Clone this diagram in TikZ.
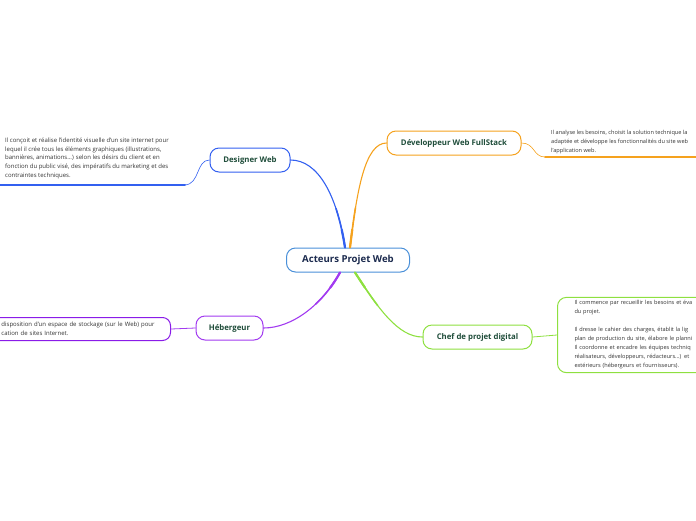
\documentclass[tikz,border=0pt]{standalone}
\usepackage{fontspec}
\setmainfont{Open Sans}
\usetikzlibrary{positioning}
\begin{document}
\begin{tikzpicture}[x=1pt,y=-1pt,line join=round,line cap=round,
		topic/.style={draw,fill=white,rounded corners=9pt,line width=1pt,minimum height=24pt,inner xsep=6pt,font=\fontsize{7.8}{9}\selectfont\bfseries,text=dkgreen},
		notetext/.style={align=left,inner sep=0pt,anchor=north west,font=\fontsize{6}{8.7}\selectfont,text=notegray},
		link/.style={line width=1.1pt},
		linkmid/.style={line width=1.6pt,dash pattern=on 40pt off 2000pt},
		linkroot/.style={line width=2.2pt,dash pattern=on 18pt off 2000pt}]
	\definecolor{centreblue}{HTML}{4A90D9}
	\definecolor{navy}{HTML}{1B2A4E}
	\definecolor{dkgreen}{HTML}{1F4D3A}
	\definecolor{notegray}{HTML}{333333}
	\definecolor{dblue}{HTML}{3360F0}
	\definecolor{dorange}{HTML}{F5A21E}
	\definecolor{hpurple}{HTML}{A23BF0}
	\definecolor{hpurpledark}{HTML}{8A1CE8}
	\definecolor{cgreen}{HTML}{8EE040}
	\useasboundingbox (0,0) rectangle (696,520);
	\clip (0,0) rectangle (696,520);
	
	% centre et branches
	\node[topic,draw=centreblue,minimum width=123pt,font=\fontsize{9.6}{11}\selectfont\bfseries,text=navy] (root) at (348,260) {Acteurs Projet Web};
	\node[topic,draw=dblue,minimum width=80pt] (designer) at (250,160) {Designer Web};
	\node[topic,draw=dorange,minimum width=134pt] (dev) at (454,143) {Développeur Web FullStack};
	\node[topic,draw=hpurple,minimum width=67pt] (heb) at (229.5,328) {Hébergeur};
	\node[topic,draw=cgreen,minimum width=109pt] (chef) at (477.5,337) {Chef de projet digital};
	
	\def\bluepath{([xshift=-3pt]root.north) .. controls (337,195) and (318,160) .. (designer.east)}
	\def\orangepath{([xshift=2pt]root.north) .. controls (357,190) and (365,143) .. (dev.west)}
	\def\purplepath{([xshift=-8pt]root.south) .. controls (322,305) and (292,328) .. (heb.east)}
	\def\greenpath{([xshift=7pt]root.south) .. controls (378,308) and (398,337) .. (chef.west)}
	\foreach \p/\c in {\bluepath/dblue,\orangepath/dorange,\purplepath/hpurple,\greenpath/cgreen}{
		\draw[link,\c] \p;
		\draw[linkmid,\c] \p;
		\draw[linkroot,\c] \p;
	}
	
	% notes
	\node[notetext] (dnote) at (5,137.5) {Il conçoit et réalise l'identité visuelle d'un site internet pour\\
		lequel il crée tous les éléments graphiques (illustrations,\\
		bannières, animations...) selon les désirs du client et en\\
		fonction du public visé, des impératifs du marketing et des\\
		contraintes techniques.};
	\coordinate (dlineL) at (0,185);
	\coordinate (dlineR) at (185,185);
	\draw[dblue,line width=2pt] (dlineL) -- (dlineR);
	\draw[dblue,line width=.6pt] (dlineR) .. controls (200,184) and (196,160) .. (designer.west);
	
	\node[notetext,font=\fontsize{5.6}{8.7}\selectfont] (vnote) at (551,130.5) {Il analyse les besoins, choisit la solution technique la\\
		adaptée et développe les fonctionnalités du site web\\
		l'application web.};
	\coordinate (vlineL) at (545,157);
	\coordinate (vlineR) at (696,157);
	\draw[dorange,line width=2pt] (vlineL) -- (vlineR);
	\draw[dorange,line width=.6pt] (dev.east) .. controls (535,143) and (533,157) .. (vlineL);
	
	\node[draw=hpurpledark,fill=white,rounded corners=8pt,line width=1pt,minimum height=23pt,inner xsep=11pt,text width=158pt,align=left,anchor=west,font=\fontsize{6}{8.7}\selectfont,text=notegray] (hnote) at (-10,329) {disposition d'un espace de stockage (sur le Web) pour\\
		cation de sites Internet.};
	\draw[hpurple,line width=.8pt] (hnote.east) -- (heb.west);
	
	\node[draw=cgreen,fill=white,rounded corners=9pt,line width=1pt,minimum height=74pt,inner xsep=17pt,text width=200pt,align=left,anchor=west,font=\fontsize{5.6}{9}\selectfont,text=notegray] (cnote) at (557,335) {Il commence par recueillir les besoins et éva\\
		du projet.\\[9pt]
		Il dresse le cahier des charges, établit la lig\\
		plan de production du site, élabore le planni\\
		Il coordonne et encadre les équipes techniq\\
		réalisateurs, développeurs, rédacteurs...) et\\
		extérieurs (hébergeurs et fournisseurs).};
	\draw[cgreen,line width=.8pt] (chef.east) -- (cnote.west);
\end{tikzpicture}
\end{document}
